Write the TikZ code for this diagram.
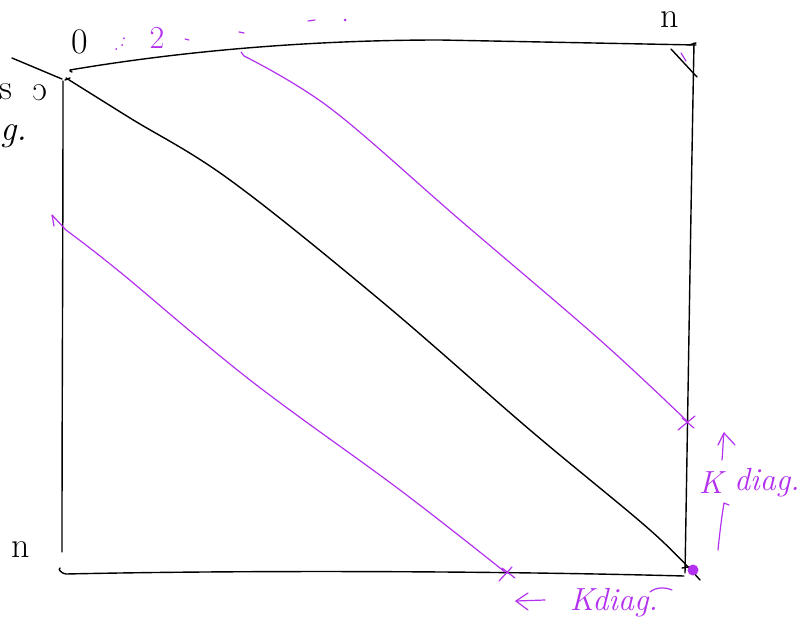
\documentclass[tikz,border=0pt]{standalone}
\usepackage{fontspec}
\definecolor{pen}{RGB}{178,48,238}
\begin{document}
\begin{tikzpicture}[x=1pt,y=-1pt,
  ink/.style={line width=1.4pt,line cap=round,line join=round},
  pink/.style={line width=1.2pt,draw=pen,line cap=round,line join=round},
  lab/.style={inner sep=0pt,font=\fontsize{36}{36}\selectfont},
  plab/.style={lab,text=pen,font=\fontsize{32}{32}\selectfont\itshape}]
\useasboundingbox (0,0) rectangle (809,642);
% box
\draw[ink] (72,72) to[out=200,in=180] (70,70) .. controls (200,48) and (330,40) .. (440,40) -- (696,45);
\draw[ink] (689,45) -- (696,43);
\draw[ink] (694,43) .. controls (691,200) and (688,400) .. (685,573);
\draw[ink] (671,49) -- (697,77);
\draw[pink] (681,53) -- (686,61);
\draw[ink] (12,58) -- (62,79);
\draw[ink] (63,81) .. controls (63,250) and (62,400) .. (62,552);
\draw[ink] (60,568) to[out=200,in=180] (66,574) .. controls (250,570) and (500,571) .. (684,576);
% main diagonal
\draw[ink] (70,78) -- (65,80);
\draw[ink] plot[smooth,tension=0.6] coordinates {(66,78) (130,118) (230,180) (380,300) (530,430) (650,530) (700,580)};
\draw[ink] (682,568) -- (694,566);
% upper purple diagonal
\draw[pink] (241,52) -- (244,56);
\draw[pink] plot[smooth,tension=0.6] coordinates {(244,56) (330,108) (460,220) (600,340) (688,422)};
\draw[pink] (678,430) -- (695,416);
\draw[pink] (682,418) -- (694,428);
% lower purple diagonal
\draw[pink] (54,226) -- (52,215) -- (66,230);
\draw[pink] plot[smooth,tension=0.6] coordinates {(66,230) (120,272) (250,380) (400,490) (505,572)};
\draw[pink] (499,581) -- (512,567);
\draw[pink] (502,568) -- (515,578);
\fill[pen] (693,570) circle (5.5);
% labels
\node[lab] (n0) at (80,42) {0};
\node[plab] (dots) at (119,44) {\fontsize{20}{20}\selectfont .\raisebox{4pt}{:}};
\node[plab] (two) at (157,38) {\upshape 2};
\draw[pink] (185,39) -- (189,40);
\draw[pink] (239,32) -- (244,33);
\draw[pink] (308,21) -- (315,20);
\fill[pen] (345,20) circle (1.5);
\node[lab] (ntop) at (670,20) {n};
\node[lab] (nleft) at (21,550) {n};
\node[lab] (sl) at (6,92) {s};
\node[lab] (cl) at (40,93) {\reflectbox{c}};
\node[lab] (gl) at (14,136) {\itshape g.};
% right K diag
\draw[pink] (722,460) .. controls (723,450) and (723,440) .. (724,433);
\draw[pink] (718,445) -- (724,433) -- (735,445);
\draw[pink] (718,550) .. controls (720,530) and (722,515) .. (724,503) -- (729,505);
\node[plab] (krk) at (711,483) {K};
\node[plab] (kr) at (767,483) {diag.};
% bottom K diag
\draw[pink] (545,600) -- (516,601);
\draw[pink] (528,593) -- (516,601) -- (528,610);
\node[plab] (kb) at (614,603) {Kdiag.};
\draw[pink] (650,592) .. controls (656,587) and (665,587) .. (672,590);
\end{tikzpicture}
\end{document}
